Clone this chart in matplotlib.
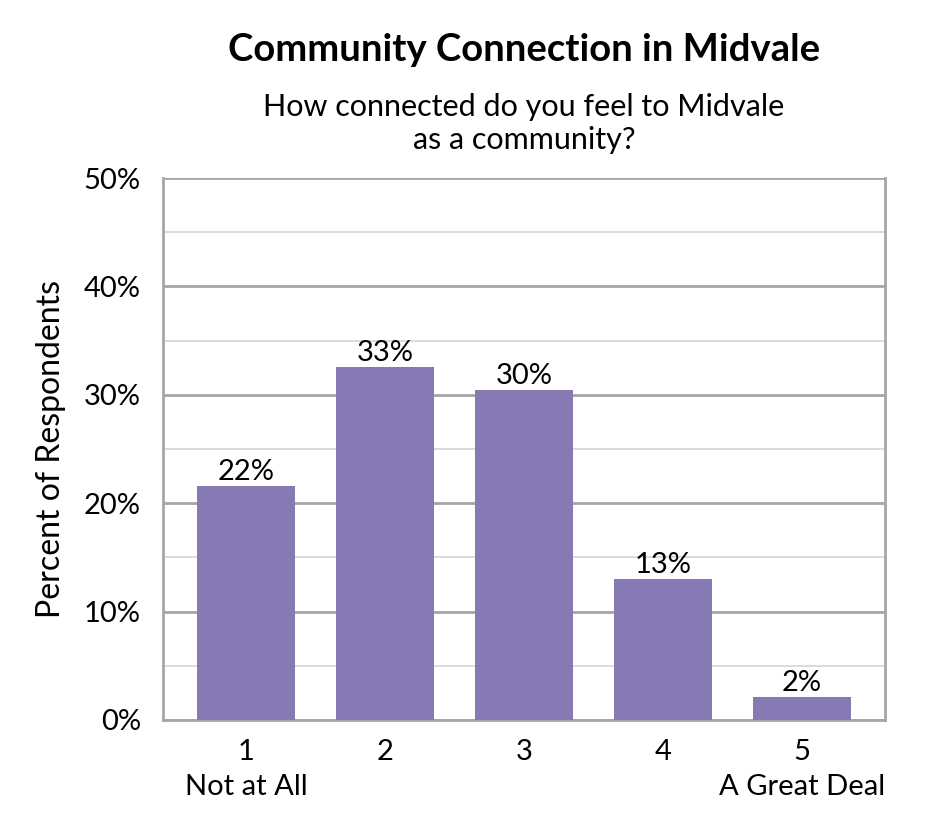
# Community Connection in Midvale - bar chart of survey responses

import matplotlib
matplotlib.use('Agg')
import matplotlib.pyplot as plt
from matplotlib.ticker import MultipleLocator, FuncFormatter

# Data

categories = ['1\nNot at All', '2', '3', '4', '5\nA Great Deal']
values = [21.6, 32.6, 30.4, 13.0, 2.1]
labels = ['22%', '33%', '30%', '13%', '2%']

plt.rcParams['font.family'] = ['Lato', 'DejaVu Sans']

fig = plt.figure(figsize = (9.45, 8.4), dpi = 100)
ax = fig.add_axes([0.1725, 0.143, 0.764, 0.645])

x = range(len(categories))
bars = ax.bar(x, values, width = 0.70, color = '#8679b4', zorder = 3)

for b, lab in zip(bars, labels):
    ax.text(b.get_x() + b.get_width() / 2, b.get_height() + 0.1, lab,
            ha = 'center', va = 'bottom', fontsize = 21, color = 'black', zorder = 4)

ax.set_xlim(-0.597, len(categories) - 0.403)
ax.set_ylim(0, 50)
ax.yaxis.set_major_locator(MultipleLocator(10))
ax.yaxis.set_minor_locator(MultipleLocator(5))
ax.yaxis.set_major_formatter(FuncFormatter(lambda v, p: '%d%%' % v))
ax.set_xticks(list(x))
ax.set_xticklabels(categories, fontsize = 21, linespacing = 1.4)

# Gridlines: darker at 10% steps, lighter at 5%
ax.grid(axis = 'y', which = 'major', color = '#a6a6a6', linewidth = 2, zorder = 0)
ax.grid(axis = 'y', which = 'minor', color = '#d4d4d4', linewidth = 1.2, zorder = 0)

for side in ['left', 'bottom', 'right', 'top']:
    ax.spines[side].set_color('#a6a6a6')
    ax.spines[side].set_linewidth(2)
ax.spines['top'].set_visible(False)

ax.tick_params(axis = 'both', which = 'both', length = 0, labelsize = 21)
ax.tick_params(axis = 'y', pad = 16)
ax.tick_params(axis = 'x', pad = 14)

ax.set_ylabel('Percent of Respondents', fontsize = 23, labelpad = 13)

fig.text(0.5545, 0.94, 'Community Connection in Midvale', ha = 'center', va = 'center',
         fontsize = 27.5, fontweight = 'bold')
fig.text(0.5545, 0.853, 'How connected do you feel to Midvale\nas a community?', ha = 'center',
         va = 'center', fontsize = 22, linespacing = 1.25)

plt.savefig('out.png', dpi = 100)
